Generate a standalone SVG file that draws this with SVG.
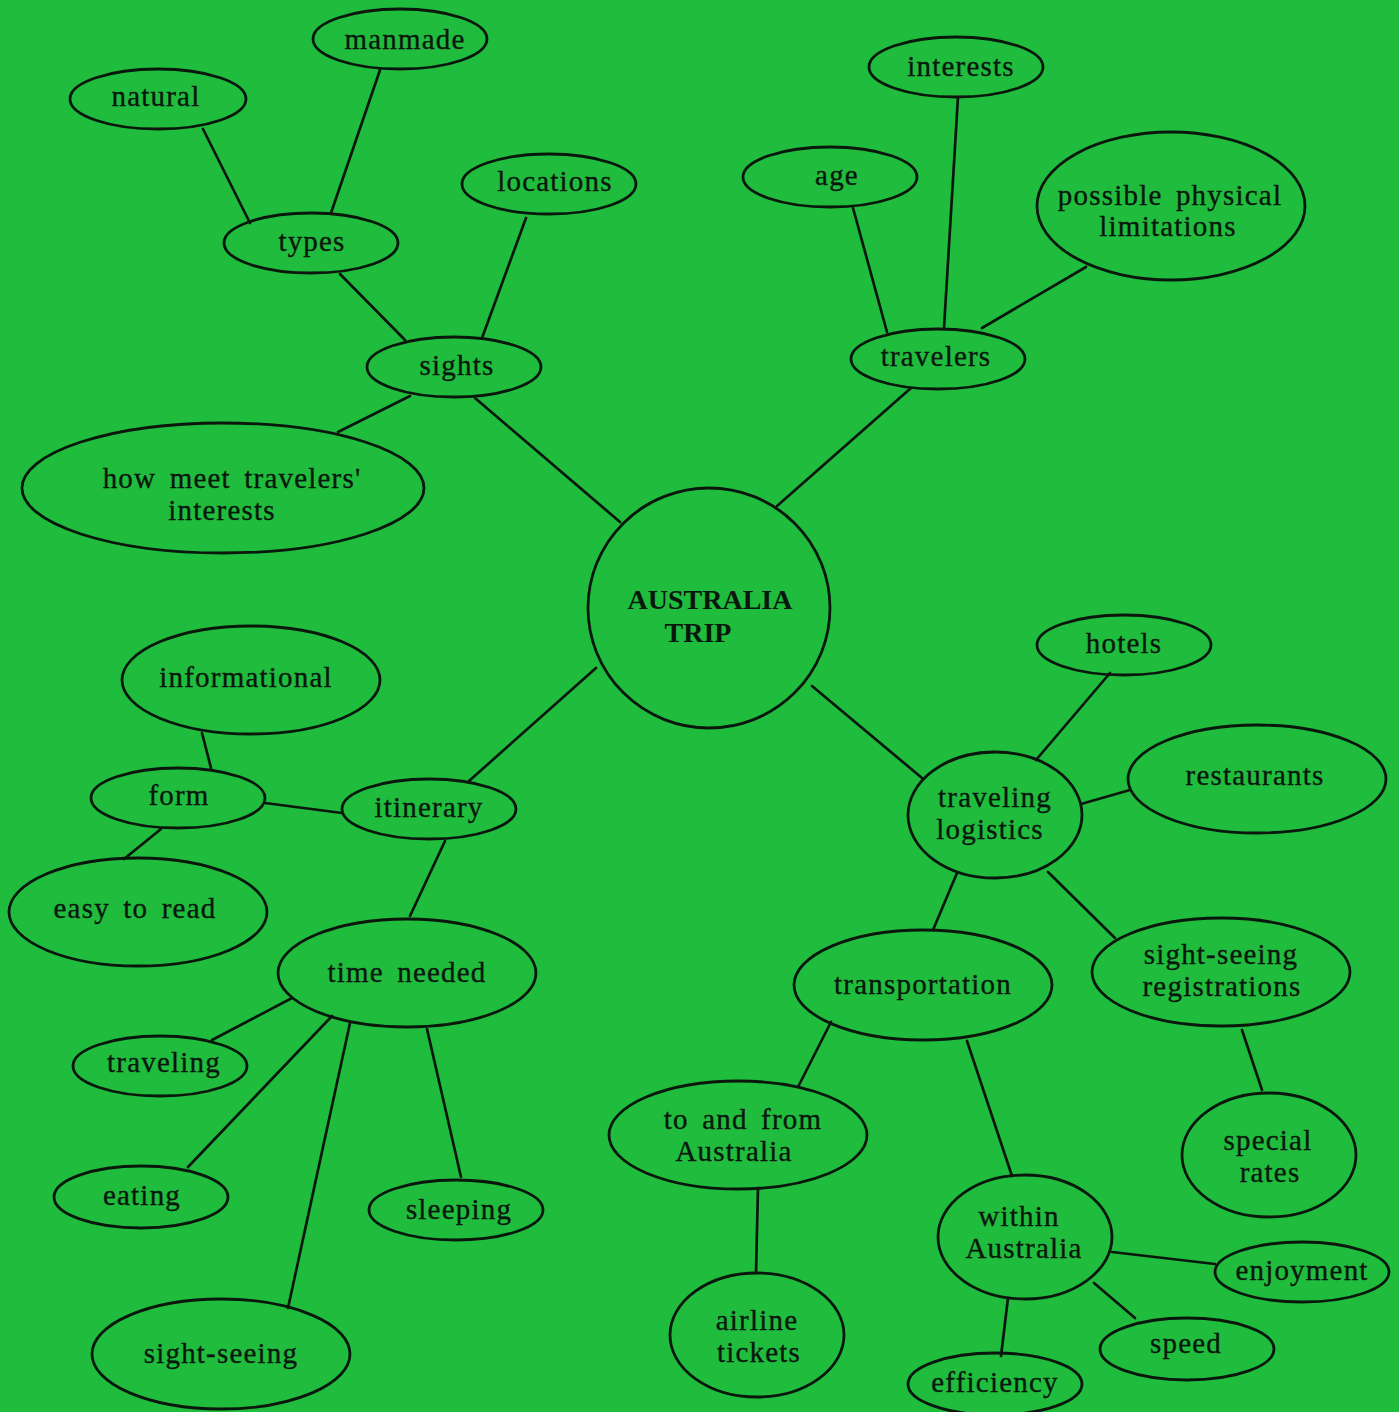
<svg xmlns="http://www.w3.org/2000/svg" width="1399" height="1412" viewBox="0 0 1399 1412">
  <style>
    .bubble { fill: none; stroke: #0a170c; stroke-width: 2.8; }
    .link { stroke: #0a170c; stroke-width: 2.7; stroke-linecap: round; fill: none; }
    .lbl { font-family: "Liberation Serif", "Times New Roman", serif; font-size: 29px; letter-spacing: 1.2px; word-spacing: 5px; fill: #0a170c; stroke: #0a170c; stroke-width: 0.35; text-anchor: middle; }
    .hub { font-family: "Liberation Serif", "Times New Roman", serif; font-size: 28px; font-weight: bold; fill: #0a170c; text-anchor: middle; }
  </style>

  <!-- paper -->
  <rect x="0" y="0" width="1399" height="1412" fill="#20bc3e"/>

  <!-- connectors -->
  <g id="connectors">
    <line class="link" x1="203" y1="129" x2="250" y2="223"/>
    <line class="link" x1="380" y1="70" x2="331" y2="213"/>
    <line class="link" x1="340" y1="274" x2="405" y2="340"/>
    <line class="link" x1="526" y1="218" x2="482" y2="338"/>
    <line class="link" x1="410" y1="396" x2="338" y2="432"/>
    <line class="link" x1="475" y1="398" x2="620" y2="522"/>
    <line class="link" x1="853" y1="208" x2="887" y2="332"/>
    <line class="link" x1="958" y1="97" x2="944" y2="328"/>
    <line class="link" x1="1086" y1="267" x2="982" y2="328"/>
    <line class="link" x1="911" y1="388" x2="777" y2="506"/>
    <line class="link" x1="596" y1="668" x2="469" y2="781"/>
    <line class="link" x1="202" y1="733" x2="211" y2="768"/>
    <line class="link" x1="265" y1="803" x2="342" y2="813"/>
    <line class="link" x1="161" y1="829" x2="124" y2="859"/>
    <line class="link" x1="445" y1="841" x2="410" y2="916"/>
    <line class="link" x1="292" y1="998" x2="212" y2="1040"/>
    <line class="link" x1="332" y1="1016" x2="188" y2="1167"/>
    <line class="link" x1="350" y1="1023" x2="288" y2="1308"/>
    <line class="link" x1="427" y1="1029" x2="461" y2="1177"/>
    <line class="link" x1="812" y1="686" x2="922" y2="778"/>
    <line class="link" x1="1110" y1="673" x2="1036" y2="760"/>
    <line class="link" x1="1130" y1="790" x2="1081" y2="804"/>
    <line class="link" x1="957" y1="873" x2="933" y2="930"/>
    <line class="link" x1="1048" y1="872" x2="1115" y2="938"/>
    <line class="link" x1="1242" y1="1030" x2="1262" y2="1090"/>
    <line class="link" x1="831" y1="1022" x2="798" y2="1087"/>
    <line class="link" x1="967" y1="1041" x2="1012" y2="1176"/>
    <line class="link" x1="758" y1="1188" x2="756" y2="1273"/>
    <line class="link" x1="1112" y1="1252" x2="1215" y2="1264"/>
    <line class="link" x1="1094" y1="1283" x2="1135" y2="1318"/>
    <line class="link" x1="1008" y1="1298" x2="1001" y2="1356"/>
  </g>

  <!-- central topic -->
  <g id="australia-trip">
    <ellipse class="bubble" cx="709" cy="608" rx="121" ry="120"/>
    <text class="hub" x="710" y="609">AUSTRALIA</text>
    <text class="hub" x="698" y="642">TRIP</text>
  </g>

  <!-- sights branch -->
  <g id="manmade">
    <ellipse class="bubble" cx="400" cy="39" rx="87" ry="30"/>
    <text class="lbl" x="405" y="49">manmade</text>
  </g>
  <g id="natural">
    <ellipse class="bubble" cx="158" cy="99" rx="88" ry="30"/>
    <text class="lbl" x="156" y="106">natural</text>
  </g>
  <g id="types">
    <ellipse class="bubble" cx="311" cy="243" rx="87" ry="30"/>
    <text class="lbl" x="312" y="251">types</text>
  </g>
  <g id="locations">
    <ellipse class="bubble" cx="549" cy="184" rx="87" ry="30"/>
    <text class="lbl" x="555" y="191">locations</text>
  </g>
  <g id="sights">
    <ellipse class="bubble" cx="454" cy="367" rx="87" ry="30"/>
    <text class="lbl" x="457" y="375">sights</text>
  </g>
  <g id="meet-interests">
    <ellipse class="bubble" cx="223" cy="488" rx="201" ry="65"/>
    <text class="lbl" x="232" y="488">how meet travelers'</text>
    <text class="lbl" x="222" y="520">interests</text>
  </g>

  <!-- travelers branch -->
  <g id="interests">
    <ellipse class="bubble" cx="956" cy="67" rx="87" ry="30"/>
    <text class="lbl" x="961" y="76">interests</text>
  </g>
  <g id="age">
    <ellipse class="bubble" cx="830" cy="177" rx="87" ry="30"/>
    <text class="lbl" x="837" y="185">age</text>
  </g>
  <g id="physical-limitations">
    <ellipse class="bubble" cx="1171" cy="206" rx="134" ry="74"/>
    <text class="lbl" x="1170" y="205">possible physical</text>
    <text class="lbl" x="1168" y="236">limitations</text>
  </g>
  <g id="travelers">
    <ellipse class="bubble" cx="938" cy="359" rx="87" ry="30"/>
    <text class="lbl" x="936" y="366">travelers</text>
  </g>

  <!-- itinerary branch -->
  <g id="informational">
    <ellipse class="bubble" cx="251" cy="680" rx="129" ry="54"/>
    <text class="lbl" x="246" y="687">informational</text>
  </g>
  <g id="form">
    <ellipse class="bubble" cx="178" cy="798" rx="87" ry="30"/>
    <text class="lbl" x="179" y="805">form</text>
  </g>
  <g id="itinerary">
    <ellipse class="bubble" cx="429" cy="809" rx="87" ry="30"/>
    <text class="lbl" x="429" y="817">itinerary</text>
  </g>
  <g id="easy-to-read">
    <ellipse class="bubble" cx="138" cy="912" rx="129" ry="54"/>
    <text class="lbl" x="135" y="918">easy to read</text>
  </g>
  <g id="time-needed">
    <ellipse class="bubble" cx="407" cy="973" rx="129" ry="54"/>
    <text class="lbl" x="407" y="982">time needed</text>
  </g>
  <g id="traveling">
    <ellipse class="bubble" cx="160" cy="1066" rx="87" ry="30"/>
    <text class="lbl" x="164" y="1072">traveling</text>
  </g>
  <g id="eating">
    <ellipse class="bubble" cx="141" cy="1197" rx="87" ry="31"/>
    <text class="lbl" x="142" y="1205">eating</text>
  </g>
  <g id="sleeping">
    <ellipse class="bubble" cx="456" cy="1210" rx="87" ry="30"/>
    <text class="lbl" x="459" y="1219">sleeping</text>
  </g>
  <g id="sight-seeing">
    <ellipse class="bubble" cx="221" cy="1354" rx="129" ry="55"/>
    <text class="lbl" x="221" y="1363">sight-seeing</text>
  </g>

  <!-- traveling logistics branch -->
  <g id="hotels">
    <ellipse class="bubble" cx="1124" cy="645" rx="87" ry="30"/>
    <text class="lbl" x="1124" y="653">hotels</text>
  </g>
  <g id="restaurants">
    <ellipse class="bubble" cx="1257" cy="779" rx="129" ry="54"/>
    <text class="lbl" x="1255" y="785">restaurants</text>
  </g>
  <g id="traveling-logistics">
    <ellipse class="bubble" cx="995" cy="815" rx="87" ry="63"/>
    <text class="lbl" x="995" y="807">traveling</text>
    <text class="lbl" x="990" y="839">logistics</text>
  </g>
  <g id="sightseeing-registrations">
    <ellipse class="bubble" cx="1221" cy="972" rx="129" ry="54"/>
    <text class="lbl" x="1221" y="964">sight-seeing</text>
    <text class="lbl" x="1222" y="996">registrations</text>
  </g>
  <g id="transportation">
    <ellipse class="bubble" cx="923" cy="985" rx="129" ry="55"/>
    <text class="lbl" x="923" y="994">transportation</text>
  </g>
  <g id="special-rates">
    <ellipse class="bubble" cx="1269" cy="1155" rx="87" ry="62"/>
    <text class="lbl" x="1268" y="1150">special</text>
    <text class="lbl" x="1270" y="1182">rates</text>
  </g>
  <g id="to-and-from">
    <ellipse class="bubble" cx="738" cy="1135" rx="129" ry="54"/>
    <text class="lbl" x="743" y="1129">to and from</text>
    <text class="lbl" x="734" y="1161">Australia</text>
  </g>
  <g id="airline-tickets">
    <ellipse class="bubble" cx="757" cy="1335" rx="87" ry="62"/>
    <text class="lbl" x="757" y="1330">airline</text>
    <text class="lbl" x="759" y="1362">tickets</text>
  </g>
  <g id="within-australia">
    <ellipse class="bubble" cx="1025" cy="1237" rx="87" ry="62"/>
    <text class="lbl" x="1019" y="1226">within</text>
    <text class="lbl" x="1024" y="1258">Australia</text>
  </g>
  <g id="enjoyment">
    <ellipse class="bubble" cx="1302" cy="1272" rx="87" ry="30"/>
    <text class="lbl" x="1302" y="1280">enjoyment</text>
  </g>
  <g id="speed">
    <ellipse class="bubble" cx="1187" cy="1349" rx="87" ry="31"/>
    <text class="lbl" x="1186" y="1353">speed</text>
  </g>
  <g id="efficiency">
    <ellipse class="bubble" cx="995" cy="1384" rx="87" ry="31"/>
    <text class="lbl" x="995" y="1392">efficiency</text>
  </g>
</svg>
